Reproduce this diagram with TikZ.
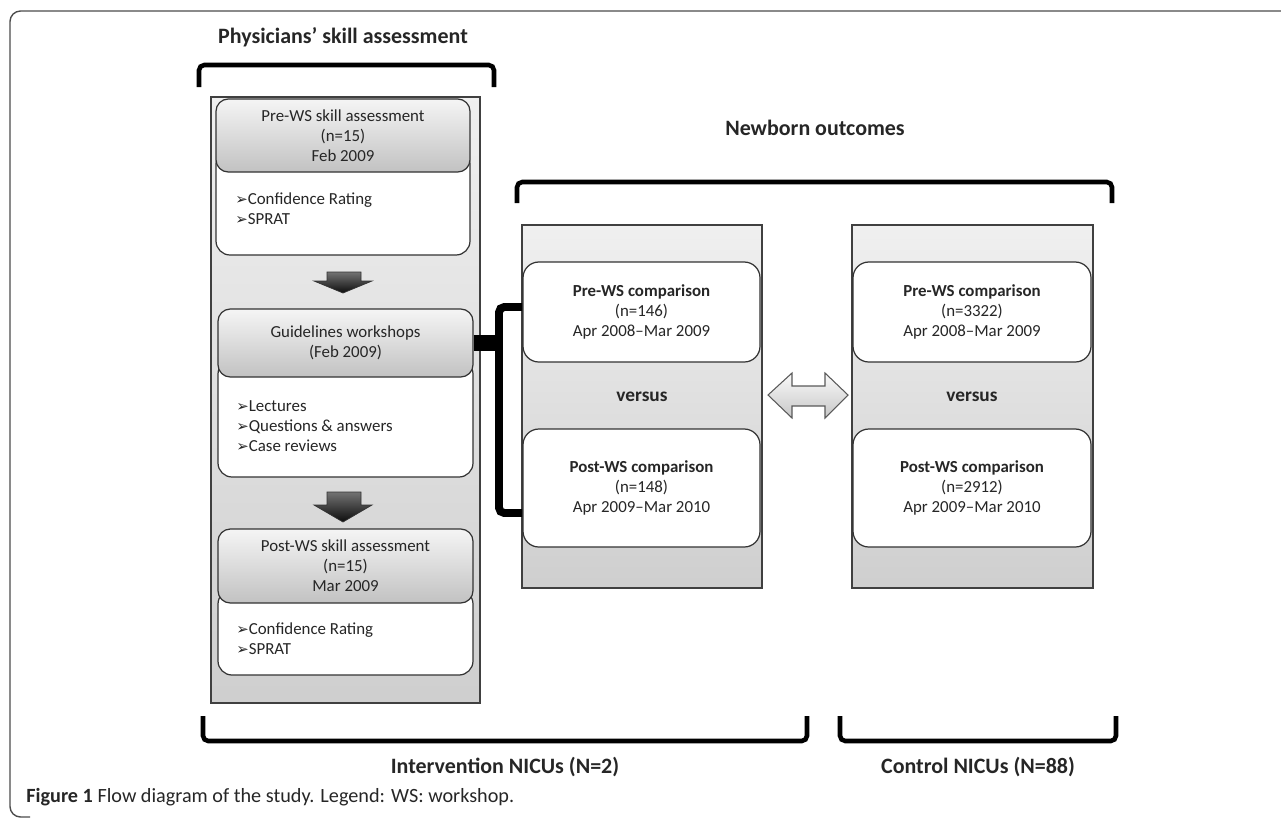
\documentclass[tikz,border=0pt]{standalone}
\usepackage{fontspec}
\setmainfont{Carlito}
\newfontfamily\symfont{DejaVu Sans}
\newcommand{\bul}{{\symfont\fontsize{8.5}{8.5}\selectfont ➢}}
\def\pxl{0.02cm}

\begin{document}
\begin{tikzpicture}[x=0.02cm, y=-0.02cm]
    \tikzstyle{every node} = [text=black!85, font=\fontsize{9.6}{11.3}\selectfont, inner sep=0pt];
    \tikzstyle{panel} = [draw=black!75, line width=0.8pt, top color=black!6, bottom color=black!19, rectangle];
    \tikzstyle{body} = [draw=black!80, line width=0.7pt, fill=white, rounded corners=8pt, rectangle];
    \tikzstyle{head} = [draw=black!80, line width=0.7pt, top color=black!4, bottom color=black!24, rounded corners=7pt, rectangle, align=center];
    \tikzstyle{comp} = [draw=black!80, line width=0.7pt, fill=white, rounded corners=9pt, rectangle, align=center];
    \tikzstyle{list} = [anchor=west, align=left];
    \tikzstyle{title} = [font=\bfseries\fontsize{12.5}{15}\selectfont];
    \tikzstyle{versus} = [font=\bfseries\fontsize{11}{13}\selectfont];
    \tikzstyle{brace} = [line width=2.6pt, rounded corners=3pt];
    \tikzstyle{darrow} = [draw=black!80, line width=0.4pt, top color=black!55, bottom color=black!95];
    \tikzstyle{swap} = [draw=black!65, line width=0.6pt, top color=black!2, bottom color=black!22];
    \useasboundingbox (0,0) rectangle (1281,819);
    % frame:
    \draw[black!70, line width=0.8pt, rounded corners=6pt] (1290,11) -- (10,11) -- (10,817) -- (30,817);
    % panels:
    \node[panel, minimum width=269*\pxl, minimum height=606*\pxl] (lpanel) at (345.5,400) {};
    \node[panel, minimum width=240*\pxl, minimum height=363*\pxl] (mpanel) at (642,406.5) {};
    \node[panel, minimum width=241*\pxl, minimum height=363*\pxl] (rpanel) at (972.5,406.5) {};
    % skill assessment boxes:
    \node[body, minimum width=254*\pxl, minimum height=105*\pxl] (prebody) at (343,202.5) {};
    \node[head, minimum width=254*\pxl, minimum height=73*\pxl] (prehead) at (343,135.5) {Pre-WS skill assessment\\(n=15)\\Feb 2009};
    \node[list] (prelist) at (235,209) {\bul Confidence Rating\\\bul SPRAT};
    \node[body, minimum width=255*\pxl, minimum height=117*\pxl] (gwbody) at (345.5,418.5) {};
    \node[head, minimum width=255*\pxl, minimum height=68*\pxl] (gwhead) at (345.5,343) {Guidelines workshops\\(Feb 2009)};
    \node[list] (gwlist) at (236,426) {\bul Lectures\\\bul Questions \& answers\\\bul Case reviews};
    \node[body, minimum width=255*\pxl, minimum height=85*\pxl] (postbody) at (345.5,632.5) {};
    \node[head, minimum width=255*\pxl, minimum height=74*\pxl] (posthead) at (345.5,566) {Post-WS skill assessment\\(n=15)\\Mar 2009};
    \node[list] (postlist) at (236,639) {\bul Confidence Rating\\\bul SPRAT};
    % block arrows:
    \draw[darrow] (327,272) -- (361,272) -- (361,281) -- (372,281) -- (343,293) -- (314,281) -- (327,281) -- cycle;
    \draw[darrow] (327,492) -- (361,492) -- (361,505) -- (372,505) -- (343,522) -- (314,505) -- (327,505) -- cycle;
    % comparison boxes:
    \node[comp, minimum width=237*\pxl, minimum height=100*\pxl] (mpre) at (641.5,312) {\textbf{Pre-WS comparison}\\(n=146)\\Apr 2008--Mar 2009};
    \node[versus] (mvs) at (642,397) {versus};
    \node[comp, minimum width=237*\pxl, minimum height=118*\pxl] (mpost) at (641.5,488) {\textbf{Post-WS comparison}\\(n=148)\\Apr 2009--Mar 2010};
    \node[comp, minimum width=238*\pxl, minimum height=100*\pxl] (rpre) at (972,312) {\textbf{Pre-WS comparison}\\(n=3322)\\Apr 2008--Mar 2009};
    \node[versus] (rvs) at (972,397) {versus};
    \node[comp, minimum width=238*\pxl, minimum height=118*\pxl] (rpost) at (972,488) {\textbf{Post-WS comparison}\\(n=2912)\\Apr 2009--Mar 2010};
    % double arrow:
    \draw[swap] (768,395) -- (792,373) -- (792,386) -- (825,386) -- (825,373) -- (848,395) -- (825,418) -- (825,406) -- (792,406) -- (792,418) -- cycle;
    % link from workshops:
    \coordinate (bend) at (499,343);
    \coordinate (ltop) at (522,307);
    \coordinate (lbot) at (522,513);
    \draw[line width=9.6pt] (gwhead.east) -- (bend);
    \draw[line width=4.5pt, rounded corners=3pt] (ltop) -- (ltop -| bend) -- (lbot -| bend) -- (lbot);
    % brackets:
    \draw[brace] (199,87) -- (199,65) -- (494,65) -- (494,87);
    \draw[brace] (517,203) -- (517,182) -- (1112,182) -- (1112,203);
    \draw[brace] (203,716) -- (203,741) -- (807,741) -- (807,716);
    \draw[brace] (840,716) -- (840,741) -- (1116,741) -- (1116,716);
    % labels:
    \node[title] (tskill) at (343,37) {Physicians’ skill assessment};
    \node[title] (tnewborn) at (815,128) {Newborn outcomes};
    \node[title] (tinter) at (505,767) {Intervention NICUs (N=2)};
    \node[title] (tcontrol) at (978,767) {Control NICUs (N=88)};
    \node[anchor=west, font=\fontsize{11.5}{14}\selectfont] (caption) at (26,797) {\textbf{Figure 1} Flow diagram of the study. Legend: WS: workshop.};
\end{tikzpicture}
\end{document}
